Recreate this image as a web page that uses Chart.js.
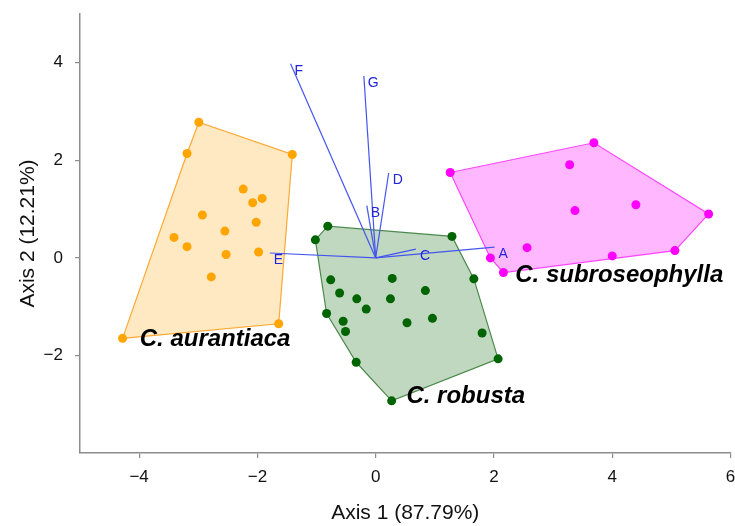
<!DOCTYPE html>
<html>
<head>
  <meta charset="UTF-8">
  <title>PCA biplot</title>
  <script src="https://cdn.jsdelivr.net/npm/chart.js"></script>
  <style>
    body { margin: 0; background: #fff; }
    #wrap { width: 735px; height: 526px; }
  </style>
</head>
<body>
  <div id="wrap"><canvas id="pca" width="735" height="526"></canvas></div>
  <script>
    // groups
    const groupNames = ['C. aurantiaca', 'C. robusta', 'C. subroseophylla'];
    const groupLabelX = [-3.99, 0.52, 2.36];
    const groupLabelY = [-1.80, -2.97, -0.49];

    // C. aurantiaca scores
    const aurX = [-2.99, -3.19, -1.41, -2.24, -1.92, -2.08, -2.93, -2.02, -2.55, -3.41, -3.19, -2.53, -1.98, -2.78, -1.64, -4.28];
    const aurY = [2.78, 2.14, 2.12, 1.41, 1.22, 1.13, 0.88, 0.73, 0.55, 0.42, 0.23, 0.07, 0.12, -0.39, -1.35, -1.65];
    const aurHull = [15, 1, 0, 2, 14];

    // C. robusta scores
    const robX = [-0.81, -1.02, 1.29, -0.76, 0.28, 1.66, -0.61, -0.32, 0.25, 0.84, -0.16, -0.83, -0.55, -0.51, 0.53, 0.96, 1.80, 2.07, -0.33, 0.27];
    const robY = [0.65, 0.37, 0.44, -0.45, -0.42, -0.43, -0.72, -0.84, -0.84, -0.67, -1.05, -1.14, -1.30, -1.51, -1.33, -1.24, -1.54, -2.07, -2.14, -2.93];
    const robHull = [1, 0, 2, 5, 17, 19, 18, 11];

    // C. subroseophylla scores
    const subX = [1.26, 3.69, 3.28, 3.37, 4.40, 5.63, 5.06, 4.00, 2.56, 1.94, 2.16];
    const subY = [1.75, 2.36, 1.91, 0.97, 1.09, 0.90, 0.15, 0.04, 0.21, 0.00, -0.30];
    const subHull = [0, 1, 5, 6, 10, 9];

    // variable loadings
    const varNames = ['A', 'B', 'C', 'D', 'E', 'F', 'G'];
    const varX = [2.01, -0.15, 0.68, 0.22, -1.79, -1.44, -0.20];
    const varY = [0.22, 1.07, 0.18, 1.74, 0.10, 3.98, 3.73];

    // axes
    const xTicks = [-4, -2, 0, 2, 4, 6];
    const yTicks = [-2, 0, 2, 4];

    const toPts = (xs, ys) => xs.map((v, i) => ({ x: v, y: ys[i] }));
    const hullPts = (xs, ys, idx) => {
      const p = idx.map(i => ({ x: xs[i], y: ys[i] }));
      p.push(p[0]);
      return p;
    };
    const minus = v => String(v).replace('-', '\u2212');

    const colours = [
      { pt: '#ffa500', line: '#ffa833', fill: 'rgba(255,165,0,0.24)' },
      { pt: '#006400', line: '#4c8a4c', fill: 'rgba(0,100,0,0.25)' },
      { pt: '#ff00ff', line: '#ff44ff', fill: 'rgba(255,0,255,0.28)' }
    ];
    const sets = [[aurX, aurY, aurHull], [robX, robY, robHull], [subX, subY, subHull]];

    const datasets = [];
    sets.forEach((s, g) => {
      datasets.push({
        data: hullPts(s[0], s[1], s[2]),
        showLine: true, fill: 'shape', tension: 0,
        borderColor: colours[g].line, borderWidth: 1.2,
        backgroundColor: colours[g].fill,
        pointRadius: 0, order: 3
      });
    });
    varNames.forEach((n, i) => {
      datasets.push({
        data: [{ x: 0, y: 0 }, { x: varX[i], y: varY[i] }],
        showLine: true, fill: false,
        borderColor: '#4455ee', borderWidth: 1.2,
        pointRadius: 0, order: 2
      });
    });
    sets.forEach((s, g) => {
      datasets.push({
        data: toPts(s[0], s[1]),
        showLine: false,
        backgroundColor: colours[g].pt, borderColor: colours[g].pt,
        pointRadius: 4.5, borderWidth: 0, order: 1
      });
    });

    const labelPlugin = {
      id: 'biplotLabels',
      afterDatasetsDraw(chart) {
        const { ctx, scales: { x, y } } = chart;
        ctx.save();
        ctx.textAlign = 'left';
        ctx.textBaseline = 'alphabetic';
        ctx.fillStyle = '#2323dd';
        ctx.font = '14px "Liberation Sans", Arial, sans-serif';
        varNames.forEach((n, i) => {
          ctx.fillText(n, x.getPixelForValue(varX[i]) + 4, y.getPixelForValue(varY[i]) + 11);
        });
        ctx.fillStyle = '#000';
        ctx.font = 'italic bold 24px "Liberation Sans", Arial, sans-serif';
        groupNames.forEach((n, i) => {
          ctx.fillText(n, x.getPixelForValue(groupLabelX[i]), y.getPixelForValue(groupLabelY[i]));
        });
        ctx.restore();
      }
    };

    const axisFont = { family: '"Liberation Sans", Arial, sans-serif', size: 17 };
    const titleFont = { family: '"Liberation Sans", Arial, sans-serif', size: 21 };

    new Chart(document.getElementById('pca'), {
      type: 'scatter',
      data: { datasets: datasets },
      options: {
        responsive: false,
        animation: false,
        layout: { padding: { top: 14, right: 3, left: 0, bottom: 0 } },
        plugins: { legend: { display: false }, tooltip: { enabled: false } },
        scales: {
          x: {
            min: -5, max: 6,
            afterBuildTicks: s => { s.ticks = xTicks.map(v => ({ value: v })); },
            afterFit: s => { s.height = 73; s.paddingLeft = 0; s.paddingRight = 0; },
            ticks: { color: '#111', font: axisFont, padding: 9, callback: v => minus(v) },
            grid: { drawOnChartArea: false, drawTicks: true, tickLength: 5, color: '#8c8c8c', lineWidth: 1.2 },
            border: { display: true, color: '#8c8c8c', width: 1.5 },
            title: { display: true, text: 'Axis 1 (87.79%)', color: '#111', font: titleFont, padding: { top: 0, bottom: 0 } }
          },
          y: {
            min: -4, max: 5,
            afterBuildTicks: s => { s.ticks = yTicks.map(v => ({ value: v })); },
            afterFit: s => { s.width = 80; s.paddingTop = 0; s.paddingBottom = 0; },
            ticks: { color: '#111', font: axisFont, padding: 12, callback: v => minus(v) },
            grid: { drawOnChartArea: false, drawTicks: true, tickLength: 5, color: '#8c8c8c', lineWidth: 1.2 },
            border: { display: true, color: '#8c8c8c', width: 1.5 },
            title: { display: true, text: 'Axis 2 (12.21%)', color: '#111', font: titleFont, padding: { top: 16, bottom: 0 } }
          }
        }
      },
      plugins: [labelPlugin]
    });
  </script>
</body>
</html>
